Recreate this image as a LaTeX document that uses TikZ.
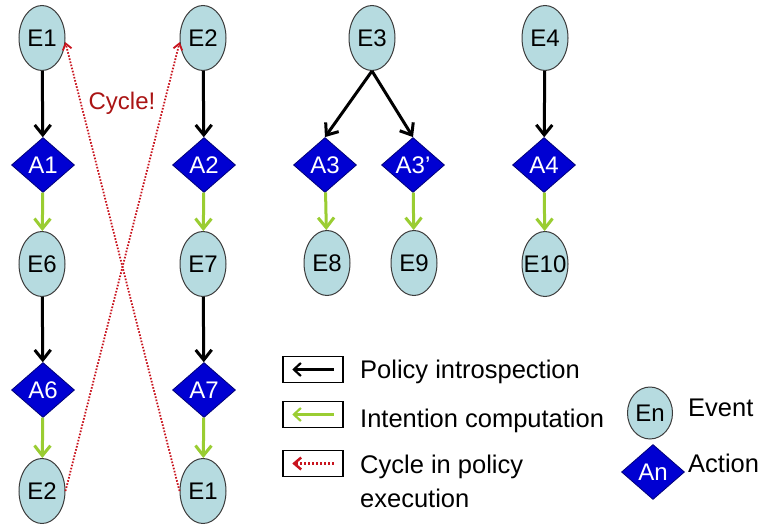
\documentclass[tikz,border=0pt]{standalone}
\usepackage{fontspec}
\setmainfont{Liberation Sans}
\usetikzlibrary{shapes.geometric,arrows.meta}
\definecolor{evfill}{RGB}{182,219,224}
\definecolor{evdraw}{RGB}{60,60,60}
\definecolor{acfill}{RGB}{0,0,210}
\definecolor{acdraw}{RGB}{0,0,120}
\definecolor{intgreen}{RGB}{154,205,50}
\definecolor{cycred}{RGB}{200,20,30}
\definecolor{cyctext}{RGB}{170,20,20}
\begin{document}
\begin{tikzpicture}[x=1pt,y=-1pt,
 evt/.style={ellipse,draw=evdraw,fill=evfill,line width=1pt,minimum width=46pt,minimum height=65pt,inner sep=0pt,font=\fontsize{24}{28}\selectfont},
 act/.style={diamond,draw=acdraw,fill=acfill,line width=0.8pt,minimum width=63pt,minimum height=55pt,inner sep=0pt,text=white,font=\fontsize{24}{28}\selectfont},
 intro/.style={draw=black,line width=3pt,-{Straight Barb[length=10pt,width=16pt]}},
 intent/.style={draw=intgreen,line width=3pt,-{Straight Barb[length=10pt,width=16pt]}},
 cyc/.style={draw=cycred,line width=1.8pt,dash pattern=on 1.6pt off 1.6pt,-{Straight Barb[length=6pt,width=9pt]}},
 legbox/.style={draw=black,line width=1.5pt,minimum width=60pt,minimum height=26pt,inner sep=0pt},
 legtxt/.style={font=\fontsize{25.5}{34}\selectfont,inner sep=0pt}
]
\useasboundingbox (0,0) rectangle (765,524);

% column 1
\node[evt] (e1) at (42,38) {E1};
\node[act] (a1) at (43,165) {A1};
\node[evt] (e6) at (42,264) {E6};
\node[act] (a6) at (43,390) {A6};
\node[evt] (e2b) at (42,491) {E2};
% column 2
\node[evt] (e2) at (203,38) {E2};
\node[act] (a2) at (204,165) {A2};
\node[evt] (e7) at (203,264) {E7};
\node[act] (a7) at (204,390) {A7};
\node[evt] (e1b) at (203,491) {E1};
% E3 tree
\node[evt] (e3) at (372,38) {E3};
\node[act] (a3) at (325,165) {A3};
\node[act] (a3p) at (413,165) {A3’};
\node[evt] (e8) at (327,263) {E8};
\node[evt] (e9) at (414,263) {E9};
% E4 chain
\node[evt] (e4) at (545,38) {E4};
\node[act] (a4) at (544,165) {A4};
\node[evt,inner xsep=-12pt] (e10) at (545,264) {E10};

% connectors
\draw[intro] (e1) -- (a1);
\draw[intent] (a1) -- (e6);
\draw[intro] (e6) -- (a6);
\draw[intent] (a6) -- (e2b);
\draw[intro] (e2) -- (a2);
\draw[intent] (a2) -- (e7);
\draw[intro] (e7) -- (a7);
\draw[intent] (a7) -- (e1b);
\draw[intro] (e3.south) -- (a3.north);
\draw[intro] (e3.south) -- (a3p.north);
\draw[intent] (a3) -- (e8);
\draw[intent] (a3p) -- (e9);
\draw[intro] (e4) -- (a4);
\draw[intent] (a4) -- (e10);

% cycles
\draw[cyc] (e2b.east) -- (e2.190);
\draw[cyc] (e1b.west) -- (e1.-10);
\node[font=\fontsize{24}{28}\selectfont,text=cyctext] (cyctxt) at (122,103) {Cycle!};

% legend
\node[legbox] (lb1) at (313,369.5) {};
\node[legbox] (lb2) at (313,414.5) {};
\node[legbox] (lb3) at (313,463.5) {};
\draw[intro,line width=2.2pt,-{Straight Barb[length=7pt,width=13pt]}] ([xshift=-10pt]lb1.east) -- ([xshift=10pt]lb1.west);
\draw[intent,line width=2.2pt,-{Straight Barb[length=7pt,width=13pt]}] ([xshift=-10pt]lb2.east) -- ([xshift=10pt]lb2.west);
\draw[cyc,line width=2.5pt,dash pattern=on 2pt off 2pt,-{Straight Barb[length=7pt,width=12pt]}] ([xshift=-10pt]lb3.east) -- ([xshift=10pt]lb3.west);
\node[legtxt,anchor=base west] (t1) at (360,378) {Policy introspection};
\node[legtxt,anchor=base west] (t2) at (360,427) {Intention computation};
\node[legtxt,anchor=west,align=left] (t3) at (360,481) {Cycle in policy\\execution};

\node[evt,minimum width=45pt,minimum height=52pt] (len) at (650,413) {En};
\node[act] (lan) at (653,472) {An};
\node[legtxt,anchor=base west] (tev) at (688,416) {Event};
\node[legtxt,anchor=base west] (tac) at (688,472) {Action};
\end{tikzpicture}
\end{document}
